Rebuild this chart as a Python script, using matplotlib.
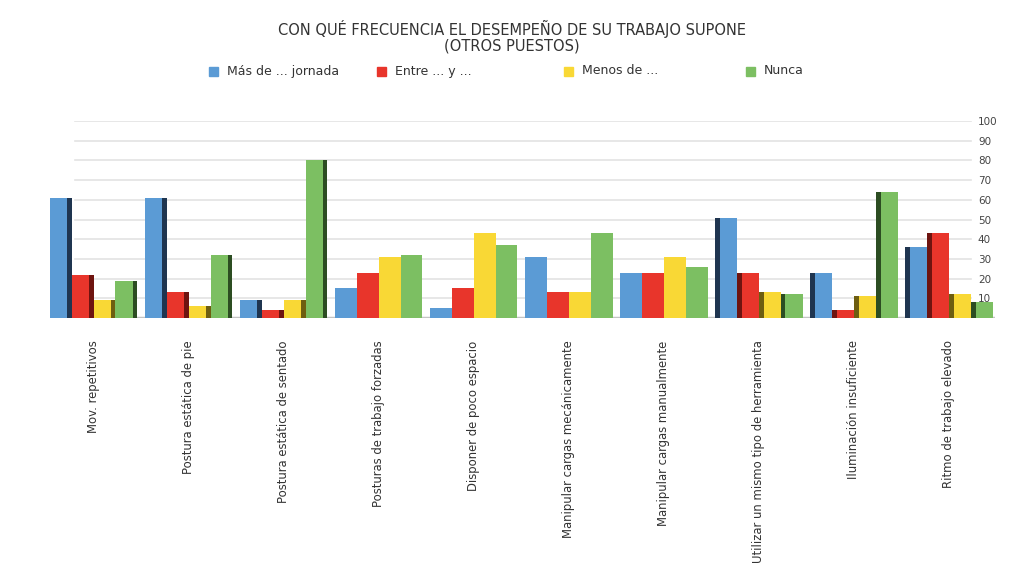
import numpy as np
import matplotlib
matplotlib.use("Agg")
import matplotlib.pyplot as plt
from matplotlib.patches import Rectangle

categories = ["Mov. repetitivos", "Postura estática de pie", "Postura estática de sentado",
              "Posturas de trabajo forzadas", "Disponer de poco espacio",
              "Manipular cargas mecánicamente", "Manipular cargas manualmente",
              "Utilizar un mismo tipo de herramienta", "Iluminación insuficiente",
              "Ritmo de trabajo elevado"]
series_names = ["Más de ... jornada", "Entre ... y ...", "Menos de ...", "Nunca"]
mas_de = [61, 61, 9, 15, 5, 31, 23, 51, 23, 36]
entre = [22, 13, 4, 23, 15, 13, 23, 23, 4, 43]
menos_de = [9, 6, 9, 31, 43, 13, 31, 13, 11, 12]
nunca = [19, 32, 80, 32, 37, 43, 26, 12, 64, 8]
yticks = [10, 20, 30, 40, 50, 60, 70, 80, 90, 100]

colors = ["#5b9bd5", "#e8352b", "#f9d835", "#7cbf62"]
dark = ["#1f3550", "#6e1410", "#6e5e10", "#2c4d22"]

fig = plt.figure(figsize=(10.18, 5.71), dpi=100)
ax = fig.add_axes([0.049, 0.443, 0.928, 0.345])

x = np.arange(len(categories))
w = 0.23
side = 0.05
values = [mas_de, entre, menos_de, nunca]
for k, vals in enumerate(values):
    pos = x + (k - 1.5) * w
    ax.bar(pos, vals, w, color=colors[k], zorder=3)
    # darker side faces, fake perspective
    for i, v in enumerate(vals):
        if i < 3:
            ax.bar(pos[i] + w / 2 - side / 2, v, side, color=dark[k], zorder=4)
        elif i > 6:
            ax.bar(pos[i] - w / 2 + side / 2, v, side, color=dark[k], zorder=4)

for t in yticks:
    ax.axhline(t, xmin=0.027, xmax=0.975, color="#e3e3e3", lw=1.2, zorder=1)
ax.axhline(0, color="#c4c4c4", lw=2.5, zorder=2)

ax.set_xlim(-0.46, 9.48)
ax.set_ylim(0, 100)
ax.set_xticks(x)
ax.set_xticklabels(categories, rotation=90, fontsize=8.4, color="#333333")
ax.tick_params(axis="x", length=0, pad=16)
ax.yaxis.tick_right()
ax.set_yticks(yticks)
ax.set_yticklabels([str(t) for t in yticks], fontsize=7.5, color="#444444")
ax.tick_params(axis="y", length=0, pad=-12)
for s in ax.spines.values():
    s.set_visible(False)

fig.text(0.503, 0.936, "CON QUÉ FRECUENCIA EL DESEMPEÑO DE SU TRABAJO SUPONE\n(OTROS PUESTOS)",
         ha="center", va="center", fontsize=10.5, color="#333333", linespacing=1.0)

# legend, placed by hand
leg_x = [209, 377, 564, 746]
for xp, c, name in zip(leg_x, colors, series_names):
    fig.patches.append(Rectangle((xp / 1018, 1 - 76 / 571), 9 / 1018, 9 / 571,
                                 transform=fig.transFigure, color=c))
    fig.text((xp + 18) / 1018, 1 - 71 / 571, name, ha="left", va="center",
             fontsize=9, color="#333333")

fig.savefig("out.png", dpi=100)
